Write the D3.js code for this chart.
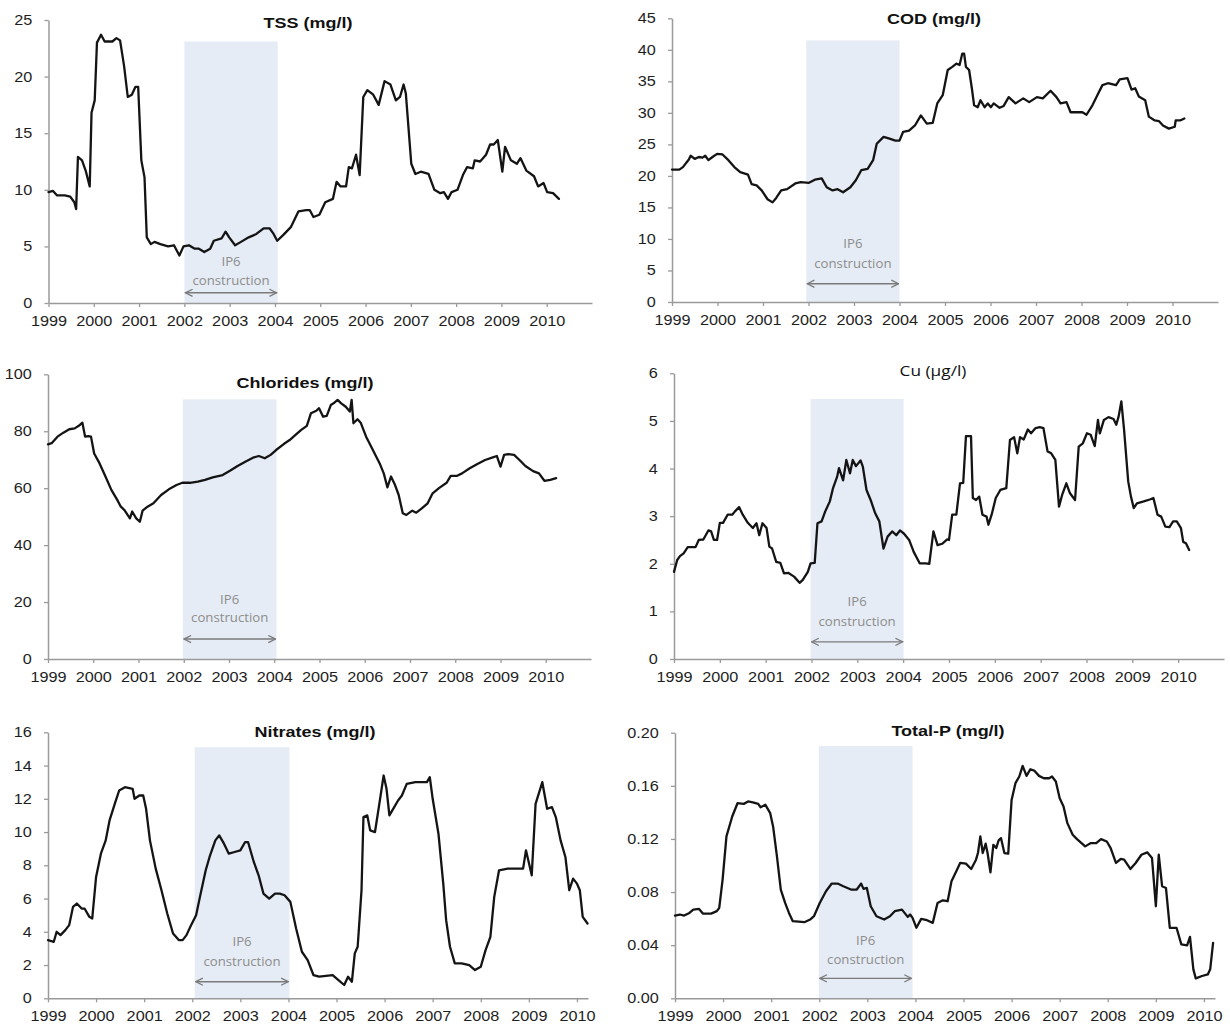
<!DOCTYPE html>
<html><head><meta charset="utf-8">
<script src="https://cdn.jsdelivr.net/npm/d3@7"></script>
<style>
html,body{margin:0;padding:0;background:#fff;}
svg{display:block;}
</style></head>
<body>
<svg id="chart" width="1230" height="1025"></svg>
<script>
// ---------- DATA (decimal year, value) ----------
const yearTicks = [1999,2000,2001,2002,2003,2004,2005,2006,2007,2008,2009,2010];

const tss = [[1999.00,9.8],[1999.10,9.9],[1999.19,9.5],[1999.36,9.5],[1999.48,9.4],[1999.57,8.9],[1999.61,8.3],[1999.65,12.9],[1999.74,12.6],[1999.82,11.7],[1999.91,10.3],[1999.95,16.8],[2000.02,17.9],[2000.07,23.0],[2000.16,23.7],[2000.24,23.1],[2000.41,23.1],[2000.50,23.4],[2000.58,23.2],[2000.67,20.9],[2000.75,18.2],[2000.84,18.4],[2000.92,19.1],[2000.98,19.1],[2001.05,12.6],[2001.12,11.1],[2001.17,5.8],[2001.26,5.2],[2001.34,5.4],[2001.47,5.2],[2001.64,5.0],[2001.77,5.1],[2001.89,4.2],[2001.98,5.0],[2002.10,5.1],[2002.23,4.8],[2002.32,4.8],[2002.44,4.5],[2002.57,4.8],[2002.65,5.5],[2002.82,5.7],[2002.91,6.3],[2002.99,5.8],[2003.12,5.1],[2003.25,5.4],[2003.42,5.8],[2003.59,6.1],[2003.75,6.6],[2003.88,6.6],[2003.97,6.1],[2004.05,5.5],[2004.18,6.0],[2004.35,6.7],[2004.52,8.1],[2004.69,8.2],[2004.77,8.2],[2004.85,7.6],[2004.98,7.8],[2005.11,8.9],[2005.28,9.2],[2005.36,10.7],[2005.45,10.3],[2005.57,10.3],[2005.63,12.0],[2005.70,11.9],[2005.79,13.1],[2005.87,11.3],[2005.95,18.2],[2006.04,18.8],[2006.17,18.4],[2006.29,17.5],[2006.42,19.6],[2006.55,19.3],[2006.67,17.9],[2006.76,18.2],[2006.84,19.3],[2006.89,18.5],[2007.01,12.3],[2007.10,11.4],[2007.22,11.6],[2007.39,11.4],[2007.52,10.0],[2007.65,9.7],[2007.73,9.8],[2007.82,9.2],[2007.90,9.8],[2008.03,10.0],[2008.15,11.3],[2008.24,12.0],[2008.37,11.9],[2008.41,12.6],[2008.53,12.5],[2008.66,13.1],[2008.75,14.0],[2008.83,14.0],[2008.92,14.4],[2009.02,11.6],[2009.08,13.8],[2009.21,12.6],[2009.34,12.3],[2009.42,12.8],[2009.55,11.7],[2009.72,11.2],[2009.81,10.3],[2009.93,10.6],[2010.01,9.8],[2010.14,9.7],[2010.27,9.2]];

const cod = [[1999.00,21.0],[1999.16,21.0],[1999.24,21.4],[1999.37,22.6],[1999.41,23.2],[1999.50,22.7],[1999.59,23.0],[1999.67,22.9],[1999.73,23.2],[1999.80,22.5],[1999.89,23.0],[1999.99,23.5],[2000.11,23.4],[2000.24,22.5],[2000.37,21.4],[2000.50,20.6],[2000.67,20.2],[2000.75,18.7],[2000.86,18.5],[2000.97,17.7],[2001.10,16.3],[2001.21,15.8],[2001.29,16.5],[2001.40,17.7],[2001.53,17.9],[2001.71,18.8],[2001.83,19.0],[2002.01,18.9],[2002.14,19.4],[2002.29,19.6],[2002.40,18.2],[2002.53,17.7],[2002.64,17.9],[2002.76,17.4],[2002.92,18.2],[2003.04,19.3],[2003.16,20.9],[2003.30,21.1],[2003.42,22.5],[2003.50,25.1],[2003.65,26.2],[2003.78,25.9],[2003.91,25.6],[2004.00,25.6],[2004.08,27.0],[2004.21,27.2],[2004.34,28.0],[2004.47,29.6],[2004.60,28.3],[2004.73,28.4],[2004.83,31.5],[2004.95,32.8],[2005.06,36.8],[2005.16,37.3],[2005.25,37.8],[2005.32,37.6],[2005.38,39.4],[2005.42,39.4],[2005.46,37.3],[2005.53,36.8],[2005.59,33.9],[2005.64,31.2],[2005.72,30.9],[2005.78,32.0],[2005.87,30.9],[2005.94,31.5],[2006.01,30.9],[2006.07,31.5],[2006.20,30.8],[2006.29,31.1],[2006.40,32.5],[2006.55,31.5],[2006.72,32.3],[2006.85,31.7],[2007.02,32.5],[2007.15,32.3],[2007.32,33.5],[2007.45,32.5],[2007.54,31.5],[2007.67,31.7],[2007.76,30.1],[2007.89,30.1],[2008.02,30.1],[2008.11,29.7],[2008.24,31.2],[2008.37,33.1],[2008.46,34.4],[2008.58,34.7],[2008.76,34.4],[2008.84,35.3],[2009.01,35.5],[2009.10,33.7],[2009.18,33.9],[2009.26,32.6],[2009.40,32.0],[2009.48,29.4],[2009.61,28.8],[2009.70,28.7],[2009.79,28.0],[2009.92,27.5],[2010.05,27.8],[2010.07,28.8],[2010.17,28.8],[2010.26,29.1]];

const chlorides = [[1999.00,75.4],[1999.08,75.8],[1999.21,78.1],[1999.34,79.5],[1999.47,80.7],[1999.59,81.0],[1999.68,81.9],[1999.76,83.0],[1999.82,78.1],[1999.89,78.3],[1999.95,78.1],[2000.02,72.2],[2000.14,68.7],[2000.27,64.1],[2000.40,59.4],[2000.53,55.9],[2000.61,53.5],[2000.69,52.3],[2000.81,49.4],[2000.86,51.8],[2000.95,49.4],[2001.03,48.2],[2001.09,52.1],[2001.20,53.5],[2001.33,54.7],[2001.50,57.6],[2001.67,59.6],[2001.84,61.1],[2001.97,61.9],[2002.14,61.9],[2002.31,62.3],[2002.47,62.9],[2002.64,63.8],[2002.86,64.6],[2003.03,66.2],[2003.19,67.8],[2003.36,69.3],[2003.53,70.7],[2003.66,71.3],[2003.79,70.5],[2003.92,71.7],[2004.04,73.4],[2004.21,75.5],[2004.34,76.9],[2004.47,78.7],[2004.59,80.4],[2004.72,81.9],[2004.81,86.3],[2004.93,87.2],[2004.99,88.1],[2005.08,85.1],[2005.16,85.4],[2005.25,89.2],[2005.31,89.8],[2005.40,91.0],[2005.48,89.8],[2005.58,88.6],[2005.67,86.9],[2005.71,91.0],[2005.75,82.8],[2005.84,84.2],[2005.91,83.0],[2006.03,78.1],[2006.16,74.0],[2006.33,68.7],[2006.42,65.2],[2006.50,60.3],[2006.58,64.1],[2006.67,61.1],[2006.75,57.6],[2006.84,51.2],[2006.92,50.6],[2007.05,52.1],[2007.14,51.4],[2007.26,52.9],[2007.39,54.7],[2007.50,58.2],[2007.64,60.0],[2007.81,61.9],[2007.90,64.3],[2008.03,64.3],[2008.15,65.2],[2008.32,67.0],[2008.49,68.5],[2008.66,69.9],[2008.83,70.8],[2008.92,71.3],[2009.00,67.6],[2009.08,71.7],[2009.17,72.0],[2009.30,71.7],[2009.42,69.9],[2009.55,67.8],[2009.72,66.0],[2009.85,65.2],[2009.97,62.6],[2010.10,62.9],[2010.23,63.5]];

const copper = [[1999.00,1.83],[1999.07,2.08],[1999.13,2.16],[1999.21,2.22],[1999.30,2.35],[1999.47,2.35],[1999.54,2.50],[1999.64,2.51],[1999.75,2.70],[1999.81,2.68],[1999.87,2.50],[1999.94,2.50],[2000.00,2.86],[2000.07,2.86],[2000.17,3.03],[2000.27,3.03],[2000.33,3.10],[2000.42,3.19],[2000.50,3.03],[2000.61,2.86],[2000.72,2.75],[2000.80,2.85],[2000.86,2.60],[2000.93,2.85],[2001.02,2.75],[2001.08,2.36],[2001.14,2.32],[2001.23,2.04],[2001.32,2.02],[2001.40,1.80],[2001.49,1.81],[2001.62,1.73],[2001.74,1.60],[2001.81,1.66],[2001.92,1.83],[2001.98,2.01],[2002.07,2.02],[2002.13,2.85],[2002.22,2.89],[2002.30,3.10],[2002.40,3.31],[2002.47,3.59],[2002.56,3.83],[2002.60,4.01],[2002.69,3.75],[2002.76,4.18],[2002.84,3.90],[2002.90,4.18],[2002.97,4.05],[2003.07,4.17],[2003.12,4.04],[2003.20,3.55],[2003.29,3.34],[2003.39,3.06],[2003.48,2.89],[2003.57,2.32],[2003.66,2.57],[2003.76,2.68],[2003.85,2.60],[2003.93,2.70],[2004.02,2.63],[2004.13,2.50],[2004.23,2.25],[2004.36,2.01],[2004.49,2.01],[2004.57,2.00],[2004.66,2.68],[2004.75,2.39],[2004.85,2.42],[2004.96,2.51],[2005.00,2.50],[2005.07,3.03],[2005.16,3.03],[2005.24,3.69],[2005.31,3.70],[2005.37,4.68],[2005.48,4.68],[2005.52,3.38],[2005.59,3.34],[2005.66,3.41],[2005.73,3.03],[2005.82,2.99],[2005.86,2.82],[2005.93,3.03],[2006.02,3.38],[2006.12,3.55],[2006.25,3.59],[2006.33,4.60],[2006.42,4.66],[2006.49,4.32],[2006.55,4.66],[2006.63,4.61],[2006.72,4.82],[2006.79,4.74],[2006.89,4.85],[2006.98,4.87],[2007.06,4.85],[2007.15,4.36],[2007.23,4.32],[2007.32,4.18],[2007.40,3.20],[2007.47,3.45],[2007.56,3.69],[2007.64,3.48],[2007.75,3.34],[2007.83,4.46],[2007.92,4.53],[2008.01,4.74],[2008.09,4.71],[2008.18,4.47],[2008.25,5.02],[2008.29,4.74],[2008.38,5.02],[2008.48,5.08],[2008.59,5.04],[2008.65,4.92],[2008.70,5.09],[2008.76,5.41],[2008.82,4.81],[2008.91,3.73],[2008.97,3.41],[2009.03,3.17],[2009.10,3.27],[2009.25,3.31],[2009.38,3.35],[2009.46,3.38],[2009.55,3.03],[2009.63,2.99],[2009.72,2.78],[2009.81,2.77],[2009.89,2.89],[2009.97,2.89],[2010.06,2.75],[2010.11,2.46],[2010.17,2.43],[2010.24,2.29]];

const nitrates = [[1999.00,3.5],[1999.12,3.4],[1999.18,4.0],[1999.26,3.8],[1999.36,4.1],[1999.44,4.4],[1999.52,5.5],[1999.60,5.7],[1999.70,5.4],[1999.76,5.4],[1999.86,4.9],[1999.92,4.8],[2000.00,7.3],[2000.10,8.7],[2000.20,9.5],[2000.28,10.7],[2000.40,11.8],[2000.48,12.5],[2000.60,12.7],[2000.76,12.6],[2000.80,12.0],[2000.90,12.2],[2000.98,12.2],[2001.04,11.4],[2001.12,9.5],[2001.24,7.8],[2001.36,6.5],[2001.48,5.1],[2001.60,3.9],[2001.72,3.5],[2001.80,3.5],[2001.88,3.8],[2001.96,4.3],[2002.08,5.0],[2002.16,6.1],[2002.28,7.7],[2002.36,8.5],[2002.48,9.5],[2002.56,9.8],[2002.66,9.3],[2002.76,8.7],[2002.88,8.8],[2003.00,8.9],[2003.10,9.4],[2003.16,9.4],[2003.28,8.2],[2003.38,7.4],[2003.48,6.3],[2003.60,6.0],[2003.72,6.3],[2003.82,6.3],[2003.92,6.2],[2004.04,5.8],[2004.16,4.2],[2004.28,2.8],[2004.40,2.3],[2004.52,1.4],[2004.64,1.3],[2004.92,1.4],[2005.04,1.1],[2005.16,0.8],[2005.24,1.3],[2005.32,1.0],[2005.38,2.7],[2005.44,3.1],[2005.52,6.5],[2005.56,10.9],[2005.64,11.0],[2005.70,10.1],[2005.80,10.0],[2005.88,11.5],[2005.98,13.4],[2006.04,12.6],[2006.10,11.0],[2006.20,11.5],[2006.28,11.9],[2006.36,12.2],[2006.46,12.9],[2006.64,13.0],[2006.88,13.0],[2006.94,13.3],[2007.00,12.0],[2007.12,9.9],[2007.22,6.9],[2007.28,4.7],[2007.36,3.1],[2007.46,2.1],[2007.60,2.1],[2007.76,2.0],[2007.88,1.7],[2008.00,1.9],[2008.10,2.9],[2008.20,3.7],[2008.28,6.1],[2008.38,7.7],[2008.56,7.8],[2008.88,7.8],[2008.94,8.9],[2009.06,7.4],[2009.14,11.7],[2009.28,13.0],[2009.38,11.4],[2009.48,11.5],[2009.56,10.9],[2009.66,9.5],[2009.76,8.5],[2009.84,6.5],[2009.92,7.2],[2010.00,6.9],[2010.06,6.5],[2010.12,4.9],[2010.22,4.5]];

const totalP = [[1999.00,0.0623],[1999.10,0.0631],[1999.19,0.0623],[1999.30,0.0643],[1999.38,0.0668],[1999.50,0.0673],[1999.58,0.0638],[1999.75,0.0638],[1999.87,0.0656],[1999.92,0.0681],[1999.99,0.0894],[2000.07,0.1219],[2000.19,0.1369],[2000.30,0.1469],[2000.43,0.1464],[2000.52,0.1482],[2000.64,0.1474],[2000.73,0.1464],[2000.78,0.1439],[2000.88,0.1457],[2000.98,0.1394],[2001.04,0.1294],[2001.12,0.1069],[2001.20,0.0819],[2001.29,0.0718],[2001.37,0.0643],[2001.45,0.0581],[2001.69,0.0573],[2001.81,0.0593],[2001.89,0.0618],[2002.01,0.0718],[2002.14,0.0806],[2002.26,0.0864],[2002.38,0.0864],[2002.50,0.0844],[2002.66,0.0819],[2002.78,0.0819],[2002.87,0.0864],[2002.92,0.0824],[2002.99,0.0831],[2003.07,0.0693],[2003.19,0.0618],[2003.35,0.0593],[2003.47,0.0618],[2003.57,0.0656],[2003.72,0.0668],[2003.84,0.0613],[2003.89,0.0631],[2003.94,0.0606],[2004.02,0.0531],[2004.12,0.0598],[2004.24,0.0588],[2004.36,0.0568],[2004.46,0.0718],[2004.57,0.0738],[2004.67,0.0731],[2004.75,0.0881],[2004.85,0.0956],[2004.93,0.1019],[2005.05,0.1014],[2005.16,0.0974],[2005.26,0.1044],[2005.30,0.1094],[2005.35,0.1219],[2005.40,0.1094],[2005.46,0.1164],[2005.50,0.1094],[2005.56,0.0949],[2005.62,0.1156],[2005.68,0.1131],[2005.73,0.1189],[2005.78,0.1206],[2005.85,0.1094],[2005.93,0.1089],[2006.00,0.1494],[2006.08,0.1620],[2006.16,0.1670],[2006.23,0.1750],[2006.31,0.1675],[2006.39,0.1725],[2006.47,0.1715],[2006.57,0.1675],[2006.67,0.1657],[2006.78,0.1657],[2006.84,0.1670],[2006.92,0.1632],[2007.00,0.1507],[2007.08,0.1444],[2007.16,0.1319],[2007.27,0.1232],[2007.36,0.1199],[2007.53,0.1144],[2007.65,0.1169],[2007.76,0.1169],[2007.86,0.1199],[2007.98,0.1181],[2008.06,0.1131],[2008.17,0.1019],[2008.27,0.1049],[2008.34,0.1044],[2008.47,0.0974],[2008.58,0.1019],[2008.70,0.1081],[2008.82,0.1099],[2008.92,0.1056],[2009.00,0.0693],[2009.06,0.1081],[2009.13,0.0844],[2009.21,0.0831],[2009.29,0.0531],[2009.43,0.0531],[2009.53,0.0406],[2009.65,0.0398],[2009.71,0.0463],[2009.78,0.0218],[2009.83,0.0150],[2009.96,0.0168],[2010.08,0.0180],[2010.13,0.0218],[2010.19,0.0418]];

// ---------- PANEL LAYOUT ----------
const panels = [
  {title:"TSS (mg/l)", bold:true, data:tss, yMax:25, yStep:5, fmt:"d", xMax:2011,
   xr:[48.5,592], yr:[303,20], tx:308, ty:28,
   band:[2002.0,2004.06,23.1], ann:[3.6,2.0,0.9]},
  {title:"COD (mg/l)", bold:true, data:cod, yMax:45, yStep:5, fmt:"d", xMax:2011,
   xr:[672,1218], yr:[302,18.3], tx:934, ty:24,
   band:[2001.95,2004.0,41.5], ann:[9.2,6.0,2.9]},
  {title:"Chlorides (mg/l)", bold:true, data:chlorides, yMax:100, yStep:20, fmt:"d", xMax:2011,
   xr:[48,591], yr:[659,374.3], tx:305, ty:388,
   band:[2001.98,2004.05,91.2], ann:[20.7,14.4,7.0]},
  {title:"Cu (\u00b5g/l)", bold:false, data:copper, yMax:6, yStep:1, fmt:"d", xMax:2011,
   xr:[674,1224], yr:[659,373.3], tx:933, ty:376,
   band:[2001.98,2004.01,5.46], ann:[1.2,0.78,0.36]},
  {title:"Nitrates (mg/l)", bold:true, data:nitrates, yMax:16, yStep:2, fmt:"d", xMax:2010.23,
   xr:[48,588], yr:[998.3,732.3], tx:315, ty:737,
   band:[2002.05,2004.02,15.1], ann:[3.4,2.2,1.0]},
  {title:"Total-P (mg/l)", bold:true, data:totalP, yMax:0.2, yStep:0.04, fmt:".2f", xMax:2010.23,
   xr:[675,1215], yr:[998.3,732.7], tx:948, ty:736,
   band:[2001.99,2003.94,0.19], ann:[0.043,0.029,0.015]}
];

const svg = d3.select("#chart");
const defs = svg.append("defs");
defs.append("marker").attr("id","chev")
  .attr("viewBox","0 0 10 10").attr("refX",9).attr("refY",5)
  .attr("markerWidth",9).attr("markerHeight",9)
  .attr("markerUnits","userSpaceOnUse")
  .attr("orient","auto-start-reverse")
  .append("path").attr("d","M1,1 L9,5 L1,9")
  .attr("fill","none").attr("stroke","#7a7a7a").attr("stroke-width",1.4);

const AXIS = "#9a9a9a";

panels.forEach(p => {
  const x = d3.scaleLinear().domain([1999, p.xMax]).range(p.xr);
  const y = d3.scaleLinear().domain([0, p.yMax]).range(p.yr);
  const g = svg.append("g");

  // construction band
  g.append("rect")
    .attr("x", x(p.band[0])).attr("width", x(p.band[1]) - x(p.band[0]))
    .attr("y", y(p.band[2])).attr("height", y(0) - y(p.band[2]))
    .attr("fill", "#e6ecf5");

  const cx = (x(p.band[0]) + x(p.band[1])) / 2;
  const annText = g.append("g")
    .attr("font-family","'Open Sans', 'Noto Sans', sans-serif")
    .attr("font-size",12).attr("fill","#8c8c8c").attr("text-anchor","middle");
  [["IP6", p.ann[0]], ["construction", p.ann[1]]].forEach(([t, v]) => {
    annText.append("text")
      .attr("transform", `translate(${cx},${y(v)}) scale(1.1,1)`)
      .attr("dy","0.35em").text(t);
  });
  g.append("line")
    .attr("x1", x(p.band[0]) + 1).attr("x2", x(p.band[1]) - 1)
    .attr("y1", y(p.ann[2])).attr("y2", y(p.ann[2]))
    .attr("stroke","#7a7a7a").attr("stroke-width",1.4)
    .attr("marker-start","url(#chev)").attr("marker-end","url(#chev)");

  // axes
  const yTicks = d3.range(0, p.yMax + p.yStep / 2, p.yStep);
  const yAxis = d3.axisLeft(y).tickValues(yTicks).tickFormat(d3.format(p.fmt))
    .tickSize(4).tickSizeOuter(0).tickPadding(10);
  const ya = g.append("g").attr("transform", `translate(${p.xr[0]},0)`).call(yAxis);

  const xAxis = d3.axisBottom(x).tickValues(yearTicks).tickFormat(d3.format("d"))
    .tickSize(4).tickSizeOuter(0).tickPadding(9);
  const xa = g.append("g").attr("transform", `translate(0,${p.yr[0]})`).call(xAxis);

  [ya, xa].forEach(a => {
    a.select(".domain").attr("stroke", AXIS).attr("stroke-width", 1.5);
    a.selectAll(".tick line").attr("stroke", AXIS).attr("stroke-width", 1.3);
    a.selectAll(".tick text")
      .attr("font-family","'Liberation Sans', Arial, sans-serif")
      .attr("font-size",14).attr("fill","#1e1e1e")
      .attr("transform","scale(1.16,1)");
  });

  // data line
  const line = d3.line().x(d => x(d[0])).y(d => y(d[1]));
  g.append("path").datum(p.data)
    .attr("d", line).attr("fill","none")
    .attr("stroke","#141414").attr("stroke-width",2.3)
    .attr("stroke-linejoin","round").attr("stroke-linecap","round");

  // title
  const title = g.append("text")
    .attr("transform", `translate(${p.tx},${p.ty}) scale(${p.bold ? 1.2 : 1.15},1)`)
    .attr("text-anchor","middle").attr("fill","#111")
    .text(p.title);
  if (p.bold) {
    title.attr("font-family","'Liberation Sans', Arial, sans-serif")
      .attr("font-weight","bold").attr("font-size",15);
  } else {
    title.attr("font-family","'Open Sans', 'Noto Sans', sans-serif")
      .attr("font-size",15);
  }
});
</script>
</body></html>
